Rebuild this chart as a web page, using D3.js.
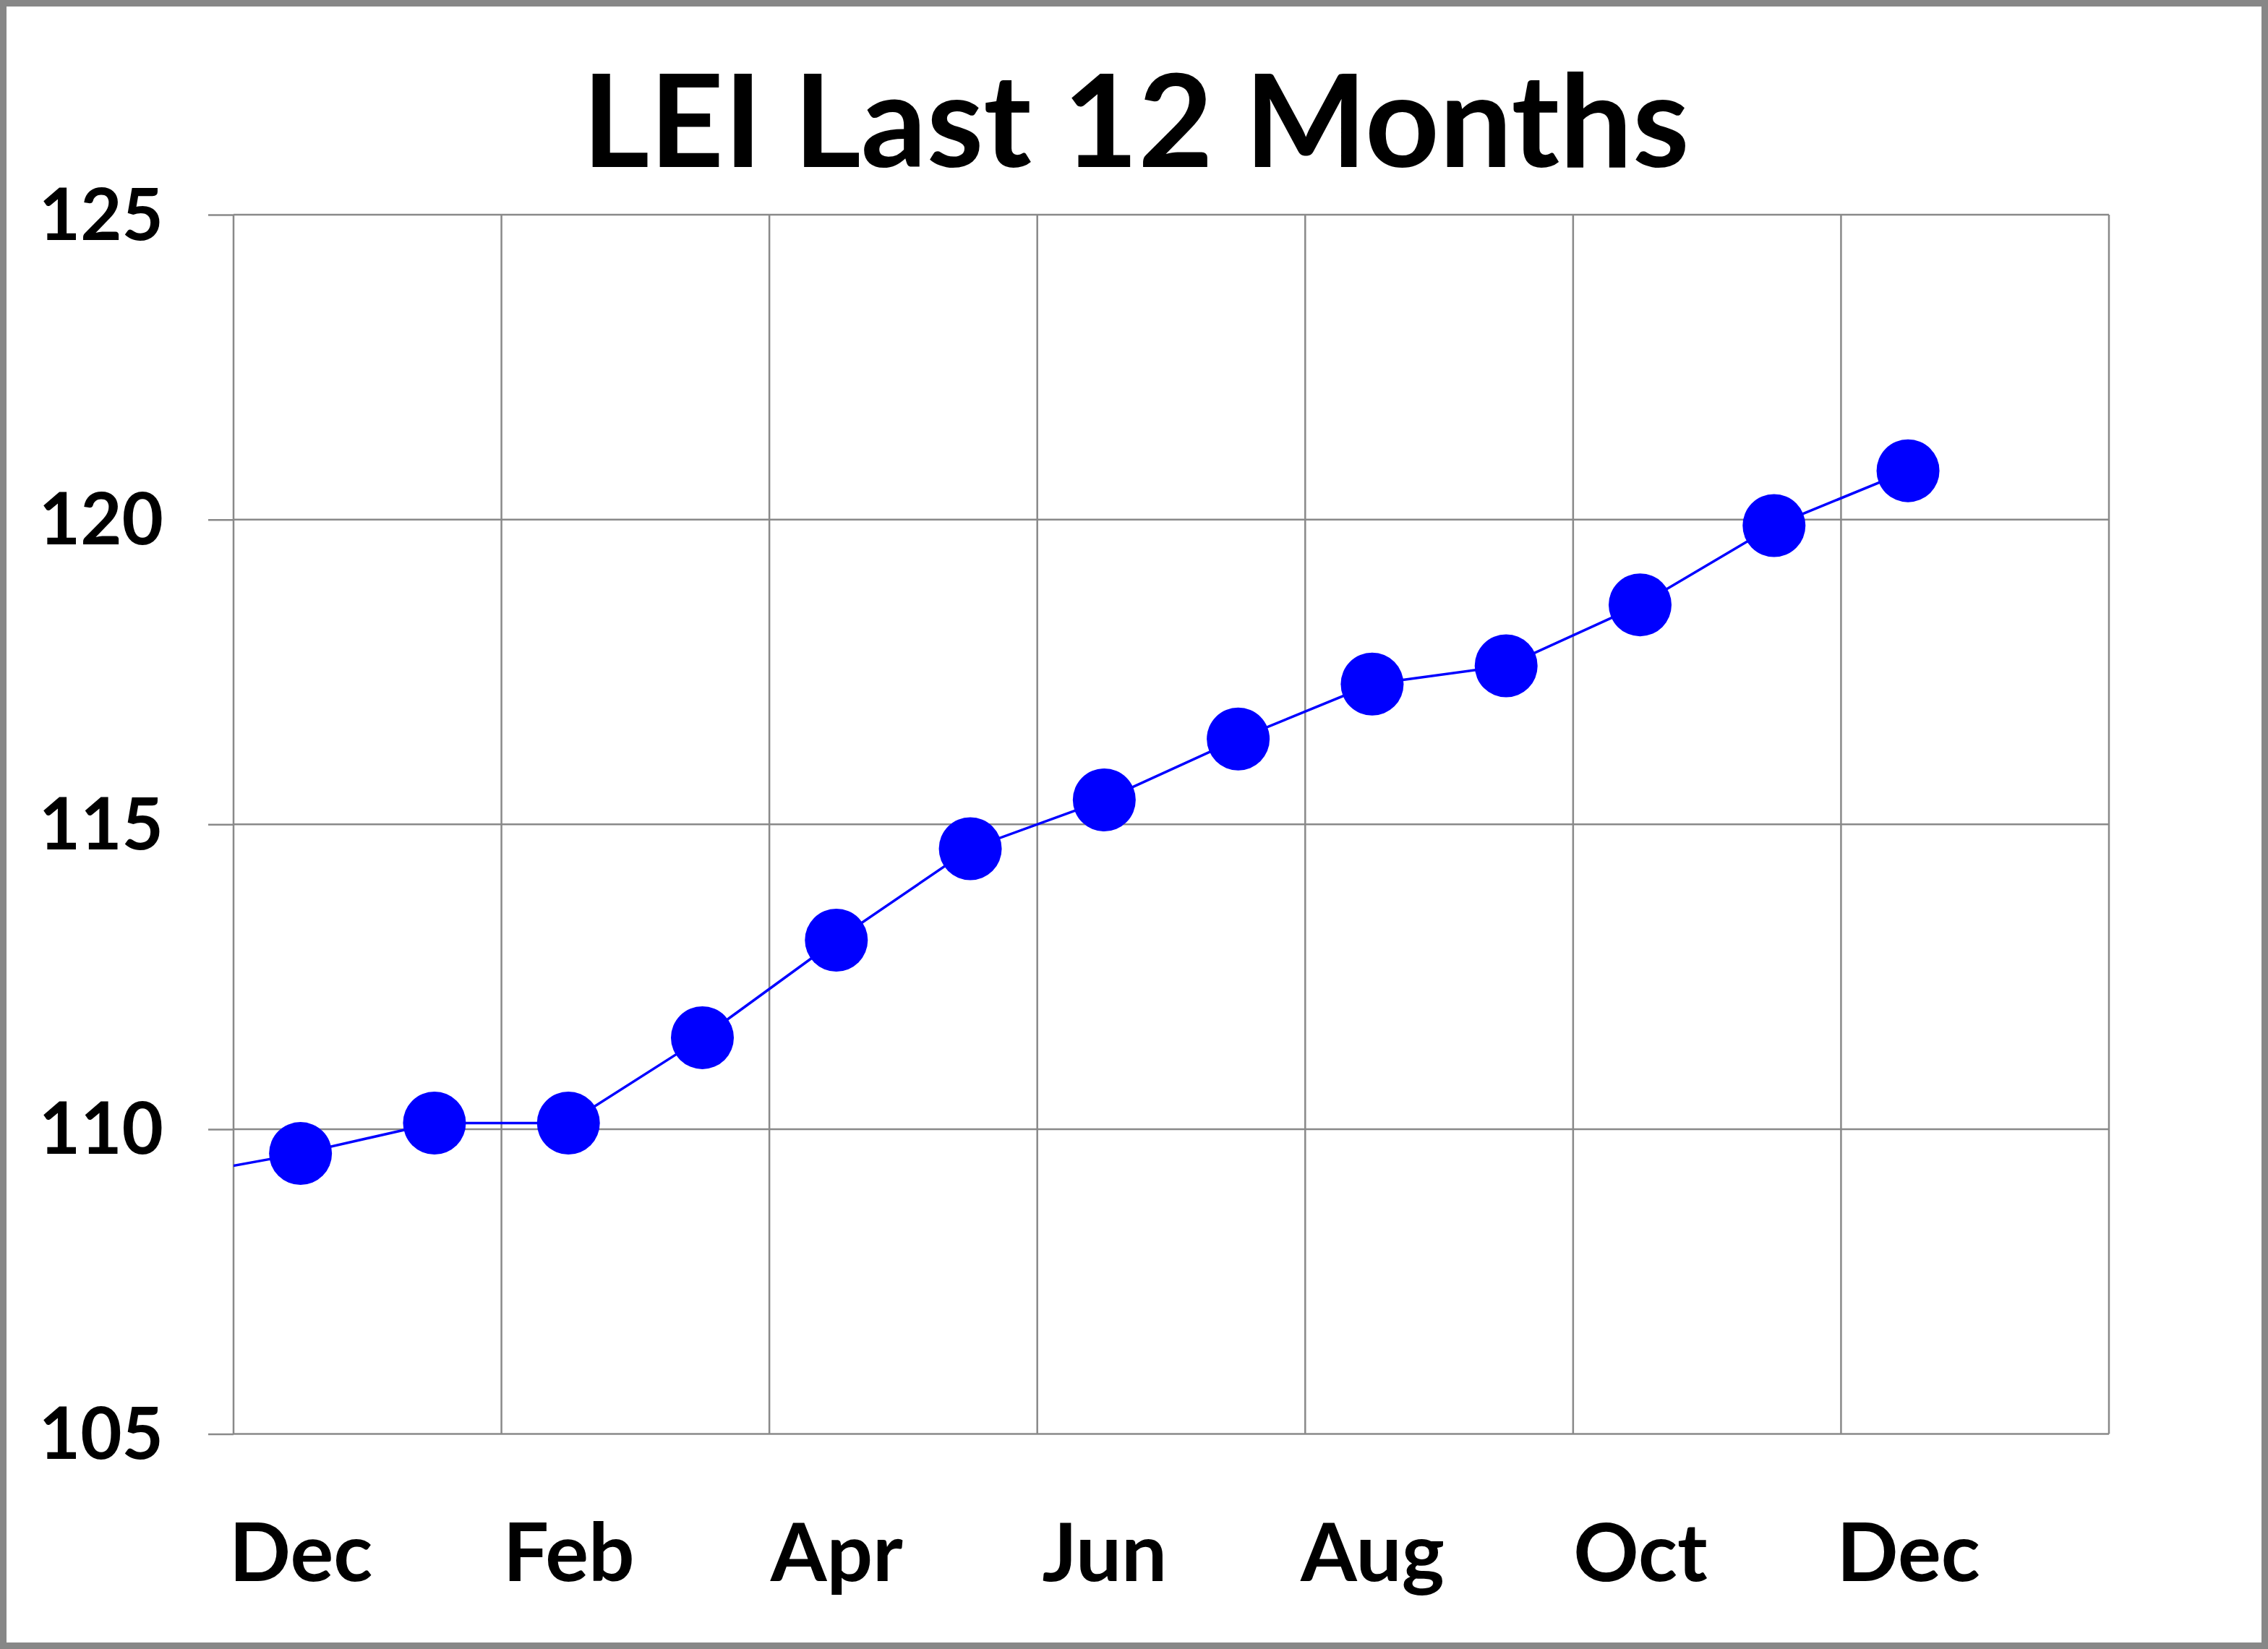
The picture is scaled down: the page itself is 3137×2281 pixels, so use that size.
<!DOCTYPE html>
<html>
<head>
<meta charset="utf-8">
<script src="https://cdn.jsdelivr.net/npm/d3@7"></script>
<style>
  html, body { margin: 0; padding: 0; background: #fff; }
  svg { display: block; }
  text { font-family: Lato, "Open Sans", sans-serif; font-weight: 700; fill: #000; }
</style>
</head>
<body>
<script>
// ---- Data ----
const title = "LEI Last 12 Months";
// month index 0 = first "Dec"; index -1 is the prior month, drawn but clipped by the plot edge
const monthIndex = [-1, 0, 1, 2, 3, 4, 5, 6, 7, 8, 9, 10, 11, 12];
const monthNames = ["Nov", "Dec", "Jan", "Feb", "Mar", "Apr", "May", "Jun", "Jul", "Aug", "Sep", "Oct", "Nov", "Dec"];
const leiValues = [109.2, 109.6, 110.1, 110.1, 111.5, 113.1, 114.6, 115.4, 116.4, 117.3, 117.6, 118.6, 119.9, 120.8];
const xTickIndex = [0, 2, 4, 6, 8, 10, 12];
const xTickLabels = ["Dec", "Feb", "Apr", "Jun", "Aug", "Oct", "Dec"];
const yTicks = [105, 110, 115, 120, 125];
const xDomain = [-0.5, 13.5];
const yDomain = [105, 125];

// ---- Layout ----
const W = 3137, H = 2281;
const plot = { left: 323, right: 2917, top: 297, bottom: 1983.5 };
const gridColor = "#898989";

const svg = d3.select("body").append("svg").attr("width", W).attr("height", H);

svg.append("rect").attr("x", 0).attr("y", 0).attr("width", W).attr("height", H).attr("fill", "#fff");

const x = d3.scaleLinear().domain(xDomain).range([plot.left, plot.right]);
const y = d3.scaleLinear().domain(yDomain).range([plot.bottom, plot.top]);

// clip
svg.append("defs").append("clipPath").attr("id", "plotclip")
  .append("rect").attr("x", plot.left).attr("y", plot.top)
  .attr("width", plot.right - plot.left).attr("height", plot.bottom - plot.top);

// horizontal gridlines + y ticks
const yAxis = d3.axisLeft(y).tickValues(yTicks).tickSize(35).tickPadding(62).tickFormat(d3.format("d"));
const gy = svg.append("g").attr("transform", `translate(${plot.left},0)`).call(yAxis);
gy.select(".domain").remove();
gy.selectAll(".tick line").attr("stroke", gridColor).attr("stroke-width", 2.5);
gy.selectAll(".tick text").attr("font-size", 99).attr("dy", 34)
  .attr("font-family", "Lato, sans-serif").attr("font-weight", 700).attr("fill", "#000");

svg.append("g").selectAll("line").data(yTicks).join("line")
  .attr("x1", plot.left).attr("x2", plot.right)
  .attr("y1", d => y(d)).attr("y2", d => y(d))
  .attr("stroke", gridColor).attr("stroke-width", 2.5);

// vertical gridlines at 2-month boundaries
const vGrid = d3.range(xDomain[0], xDomain[1] + 0.01, 2);
svg.append("g").selectAll("line").data(vGrid).join("line")
  .attr("x1", d => x(d)).attr("x2", d => x(d))
  .attr("y1", plot.top).attr("y2", plot.bottom)
  .attr("stroke", gridColor).attr("stroke-width", 2.5);

// x labels
const xAxis = d3.axisBottom(x).tickValues(xTickIndex).tickSize(0).tickPadding(0)
  .tickFormat((d, i) => xTickLabels[i]);
const gx = svg.append("g").attr("transform", `translate(0,${plot.bottom})`).call(xAxis);
gx.select(".domain").remove();
gx.selectAll(".tick text").attr("font-size", 112).attr("dy", null).attr("y", 2187 - plot.bottom)
  .attr("font-family", "Lato, sans-serif").attr("font-weight", 700).attr("fill", "#000");

// series
const pts = monthIndex.map((m, i) => ({ m, name: monthNames[i], v: leiValues[i] }));
const line = d3.line().x(d => x(d.m)).y(d => y(d.v));
svg.append("path").datum(pts).attr("clip-path", "url(#plotclip)")
  .attr("d", line).attr("fill", "none").attr("stroke", "#0000ff").attr("stroke-width", 3.5);

svg.append("g").selectAll("circle").data(pts.filter(d => d.m >= 0)).join("circle")
  .attr("cx", d => x(d.m)).attr("cy", d => y(d.v)).attr("r", 43.5).attr("fill", "#0000ff");

// title
svg.append("text").attr("x", 1571).attr("y", 231).attr("text-anchor", "middle")
  .attr("font-size", 179).text(title);

// outer border
svg.append("rect").attr("x", 4.5).attr("y", 4.5).attr("width", W - 9).attr("height", H - 9)
  .attr("fill", "none").attr("stroke", "#878787").attr("stroke-width", 9);
</script>
</body>
</html>
